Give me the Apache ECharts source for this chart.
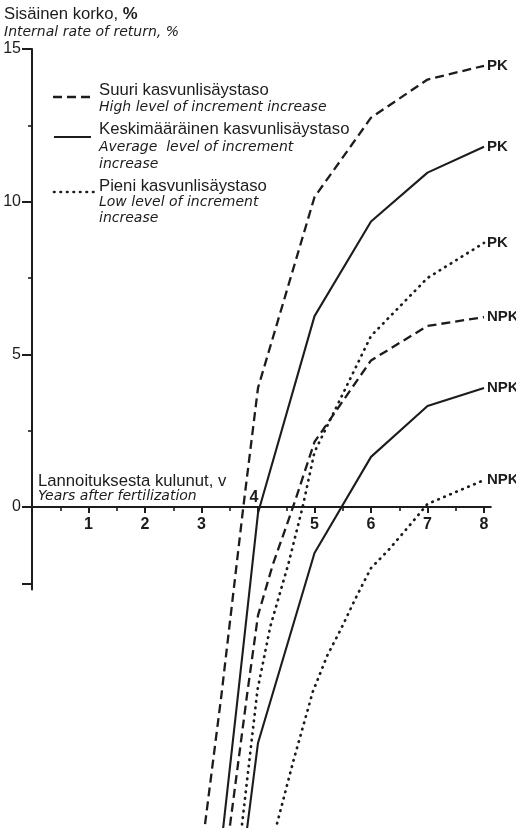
<!DOCTYPE html>
<html><head><meta charset="utf-8">
<script src="https://cdn.jsdelivr.net/npm/echarts@6/dist/echarts.min.js"></script>
<style>html,body{margin:0;padding:0;background:#fff}#c{width:516px;height:828px}</style>
</head><body><div id="c"></div>
<script>
// ---- data ----
// x = years after fertilization, y = internal rate of return (%)
const highPK_x  = [3.0, 3.35, 3.74, 4, 5, 6, 7, 8];
const highPK_y  = [-11.3, -6.2, 0, 3.9, 10.15, 12.75, 14.0, 14.45];
const avgPK_x   = [3.3, 3.64, 4, 5, 6, 7, 8];
const avgPK_y   = [-11.9, -6.25, -0.2, 6.25, 9.35, 10.95, 11.8];
const lowPK_x   = [3.6, 3.72, 3.99, 4.22, 4.54, 4.79, 5, 6, 7, 8];
const lowPK_y   = [-12.3, -10.35, -6.0, -3.9, -1.85, 0, 1.8, 5.6, 7.5, 8.65];
const highNPK_x = [3.4, 3.51, 3.81, 4.0, 4.26, 4.62, 5, 6, 7, 8];
const highNPK_y = [-11.8, -10.35, -6.1, -3.55, -1.9, 0, 2.13, 4.8, 5.93, 6.22];
const avgNPK_x  = [3.7, 3.81, 4, 5, 6, 7, 8];
const avgNPK_y  = [-12.1, -10.48, -7.73, -1.51, 1.64, 3.31, 3.9];
const lowNPK_x  = [4.2, 4.33, 4.63, 4.97, 5.23, 5.46, 5.73, 6, 6.31, 6.73, 7, 8];
const lowNPK_y  = [-11.4, -10.42, -8.29, -6.05, -4.85, -4.03, -2.98, -2.0, -1.41, -0.5, 0.1, 0.88];

const xTickLabels   = [1, 2, 3, 5, 6, 7, 8];
const xLabelAbove   = 4;
const xMajorTicks   = [1, 2, 3, 4, 5, 6, 7, 8];
const xMinorTicks   = [0.5, 1.5, 2.5, 3.5, 4.5, 5.5, 6.5, 7.5];
const yTickLabels   = [0, 5, 10, 15];
const yMajorTicks   = [-2.5, 0, 5, 10, 15];
const yMinorTicks   = [2.5, 7.5, 12.5];

const seriesNames = ['PK', 'NPK'];
const levelNames  = ['Suuri kasvunlisäystaso', 'Keskimääräinen kasvunlisäystaso', 'Pieni kasvunlisäystaso'];

// ---- drawing ----
const INK = '#1c1c1c';
const FIN = '"Liberation Sans", Arial, sans-serif';
const ENG = '"DejaVu Sans", sans-serif';
const X_MIN = 0, X_MAX = 8.12, Y_MIN = -2.7, Y_MAX = 15;

function pairs(xs, ys) { return xs.map((x, i) => [x, ys[i]]); }

const lineStyles = {
  high: { color: INK, width: 2.3, type: [9, 5] },
  avg:  { color: INK, width: 2.1, type: 'solid' },
  low:  { color: INK, width: 2.7, type: [0.5, 6], cap: 'round' }
};

const defs = [
  { level: 'high', name: levelNames[0], tag: seriesNames[0], x: highPK_x,  y: highPK_y },
  { level: 'avg',  name: levelNames[1], tag: seriesNames[0], x: avgPK_x,   y: avgPK_y },
  { level: 'low',  name: levelNames[2], tag: seriesNames[0], x: lowPK_x,   y: lowPK_y },
  { level: 'high', name: levelNames[0], tag: seriesNames[1], x: highNPK_x, y: highNPK_y },
  { level: 'avg',  name: levelNames[1], tag: seriesNames[1], x: avgNPK_x,  y: avgNPK_y },
  { level: 'low',  name: levelNames[2], tag: seriesNames[1], x: lowNPK_x,  y: lowNPK_y }
];

const xTickStyle = { color: INK, fontFamily: FIN, fontSize: 16, fontWeight: 'bold' };
const yTickStyle = { color: INK, fontFamily: FIN, fontSize: 16, fontWeight: 'normal' };

const series = defs.map((d, i) => {
  const s = {
    type: 'line',
    name: d.name,
    data: pairs(d.x, d.y),
    xAxisIndex: 0, yAxisIndex: 0,
    showSymbol: false, symbol: 'none',
    clip: false, silent: true,
    lineStyle: lineStyles[d.level],
    emphasis: { disabled: true },
    endLabel: {
      show: true, formatter: d.tag, color: INK,
      fontFamily: FIN, fontWeight: 'bold', fontSize: 15, distance: 3
    },
    z: 3
  };
  if (i === 0) {
    // tick labels placed through the data coordinate system
    const xl = xTickLabels.map(v => ({
      coord: [v, 0],
      label: Object.assign({ show: true, formatter: String(v), position: 'inside', offset: [0, 18] }, xTickStyle)
    }));
    xl.push({
      coord: [xLabelAbove, 0],
      label: Object.assign({ show: true, formatter: String(xLabelAbove), position: 'inside', offset: [-4, -9] }, xTickStyle)
    });
    const yl = yTickLabels.map(v => ({
      coord: [0, v],
      label: Object.assign({ show: true, formatter: String(v), position: 'inside', align: 'right', offset: [-11, 0] }, yTickStyle)
    }));
    s.markPoint = {
      silent: true, animation: false,
      symbol: 'circle', symbolSize: 0,
      data: xl.concat(yl)
    };
  }
  return s;
});

function txt(text, x, y, font, extra) {
  return Object.assign({
    type: 'text', silent: true,
    style: { text: text, x: x, y: y, font: font, fill: INK,
             textAlign: 'left', textVerticalAlign: 'middle', align: 'left', verticalAlign: 'middle' }
  }, extra || {});
}
function seg(x1, x2, y, ls) {
  return { type: 'line', silent: true,
    shape: { x1: x1, y1: y, x2: x2, y2: y },
    style: { stroke: INK, lineWidth: ls.width, lineDash: Array.isArray(ls.type) ? ls.type : null, lineCap: ls.cap || 'butt' } };
}

const F_FIN = '16.7px ' + FIN;
const F_ENG = 'italic 14px ' + ENG;

const graphic = [
  { type: 'text', silent: true, style: { text: '{a|Sisäinen korko, }{b|%}', x: 4, y: 14,
      textVerticalAlign: 'middle', verticalAlign: 'middle', fill: INK,
      rich: { a: { fontFamily: FIN, fontSize: 16.7, color: INK },
              b: { fontFamily: FIN, fontSize: 16.7, fontWeight: 'bold', color: INK } } } },
  txt('Internal rate of return, %', 4, 32, F_ENG),
  // legend
  seg(53, 91, 97, lineStyles.high),
  txt('Suuri kasvunlisäystaso', 99, 90, F_FIN),
  txt('High level of increment increase', 99, 107, F_ENG),
  seg(54, 91, 137, lineStyles.avg),
  txt('Keskimääräinen kasvunlisäystaso', 99, 129, F_FIN),
  txt('Average  level of increment', 99, 147, F_ENG),
  txt('increase', 99, 164, F_ENG),
  seg(54, 96, 192, lineStyles.low),
  txt('Pieni kasvunlisäystaso', 99, 186, F_FIN),
  txt('Low level of increment', 99, 202, F_ENG),
  txt('increase', 99, 218, F_ENG),
  // x-axis name
  txt('Lannoituksesta kulunut, v', 38, 481, F_FIN),
  txt('Years after fertilization', 38, 496, F_ENG)
];

const option = {
  animation: false,
  backgroundColor: '#ffffff',
  grid: { left: 32, right: 25.2, top: 49, bottom: 238.6, containLabel: false, outerBoundsMode: 'none' },
  xAxis: [
    { type: 'value', min: X_MIN, max: X_MAX, position: 'bottom',
      axisLine: { show: true, onZero: true, lineStyle: { color: INK, width: 2 } },
      axisTick: { show: true, customValues: xMajorTicks, length: 6, lineStyle: { color: INK, width: 2 } },
      axisLabel: { show: false },
      splitLine: { show: false } },
    { type: 'value', min: X_MIN, max: X_MAX, position: 'bottom',
      axisLine: { show: false, onZero: true },
      axisTick: { show: true, customValues: xMinorTicks, length: 4, lineStyle: { color: INK, width: 1.6 } },
      axisLabel: { show: false }, splitLine: { show: false } }
  ],
  yAxis: [
    { type: 'value', min: Y_MIN, max: Y_MAX, position: 'left',
      axisLine: { show: true, onZero: false, lineStyle: { color: INK, width: 2 } },
      axisTick: { show: true, customValues: yMajorTicks, length: 10, lineStyle: { color: INK, width: 2 } },
      axisLabel: { show: false },
      splitLine: { show: false } },
    { type: 'value', min: Y_MIN, max: Y_MAX, position: 'left', offset: 0,
      axisLine: { show: false, onZero: false },
      axisTick: { show: true, customValues: yMinorTicks, length: 4, lineStyle: { color: INK, width: 1.6 } },
      axisLabel: { show: false }, splitLine: { show: false } }
  ],
  series: series,
  graphic: graphic
};

const chart = echarts.init(document.getElementById('c'), null, { renderer: 'canvas' });
chart.setOption(option);
</script>
</body></html>
